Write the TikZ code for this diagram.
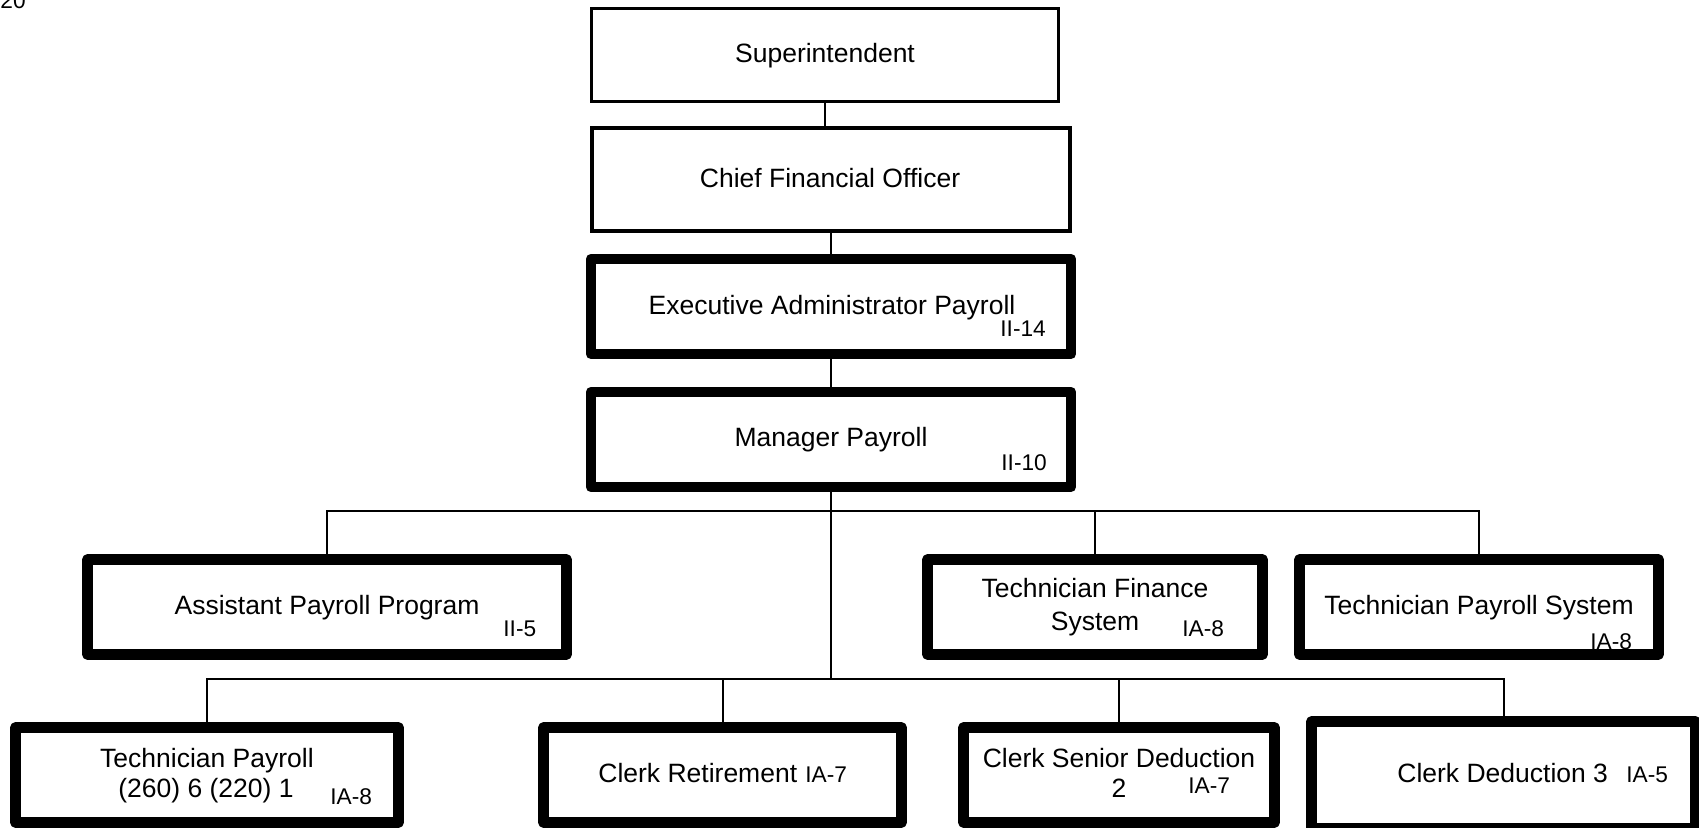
\documentclass[tikz,border=0pt]{standalone}
\usepackage{fontspec}
\setmainfont{Liberation Sans}
\begin{document}
\begin{tikzpicture}[x=0.5pt,y=-0.5pt]
\tikzset{
 thinbox/.style={draw, line width=1.5pt, inner sep=0pt, outer sep=0pt},
 midbox/.style={draw, line width=2pt, inner sep=0pt, outer sep=0pt},
 thickbox/.style={draw, line width=5.25pt, line join=round, inner sep=0pt, outer sep=0pt, minimum height=47.5pt},
 lbl/.style={anchor=base, inner sep=0pt, font=\fontsize{13.25}{15}\selectfont},
 lblw/.style={anchor=base west, inner sep=0pt, font=\fontsize{13.25}{15}\selectfont},
 code/.style={anchor=base west, inner sep=0pt, font=\fontsize{11.35}{13}\selectfont},
 conn/.style={line width=1pt},
}
\useasboundingbox (0,0) rectangle (1699,828);
\node[code] (pg) at (0,9) {20};
% boxes
\node[thinbox, minimum width=233.5pt, minimum height=46.5pt] (sup) at (825,55) {};
\node[midbox, minimum width=239pt, minimum height=51.5pt] (cfo) at (831,179.5) {};
\node[thickbox, minimum width=240pt] (exec) at (831,306.5) {};
\node[thickbox, minimum width=240pt] (mgr) at (831,439.5) {};
\node[thickbox, minimum width=239.5pt] (asst) at (327,607) {};
\node[thickbox, minimum width=167.5pt] (tfin) at (1095,607) {};
\node[thickbox, minimum width=179.5pt] (tps) at (1479,607) {};
\node[thickbox, minimum width=191.5pt] (tp) at (207,775) {};
\node[thickbox, minimum width=179pt] (cret) at (722.5,775) {};
\node[thickbox, minimum width=155.5pt] (csd) at (1119,775) {};
\node[thickbox, minimum width=192pt, minimum height=53.5pt] (cded) at (1503.5,775) {};
% texts
\node[lbl] (supT) at (825,63) {Superintendent};
\node[lbl] (cfoT) at (830,188) {Chief Financial Officer};
\node[lbl] (execT) at (832,315) {Executive Administrator Payroll};
\node[code] (execC) at (1000,337) {II-14};
\node[lbl] (mgrT) at (831,447) {Manager Payroll};
\node[code] (mgrC) at (1001,471) {II-10};
\node[lbl] (asstT) at (327,615) {Assistant Payroll Program};
\node[code] (asstC) at (503,637) {II-5};
\node[lbl] (tfinT) at (1095,598) {Technician Finance};
\node[lbl] (tfinT2) at (1095,631) {System};
\node[code] (tfinC) at (1182,637) {IA-8};
\node[lbl] (tpsT) at (1479,615) {Technician Payroll System};
\node[code] (tpsC) at (1590,650) {IA-8};
\node[lbl] (tpT) at (207,767) {Technician Payroll};
\node[lbl] (tpT2) at (206,798) {(260) 6 (220) 1};
\node[code] (tpC) at (330,805) {IA-8};
\node[lblw] (cretT) at (598,783) {Clerk Retirement};
\node[code] (cretC) at (805,783) {IA-7};
\node[lbl] (csdT) at (1119,767) {Clerk Senior Deduction};
\node[lbl] (csdT2) at (1119,798) {2};
\node[code] (csdC) at (1188,793) {IA-7};
\node[lblw] (cdedT) at (1397,783) {Clerk Deduction 3};
\node[code] (cdedC) at (1626,782) {IA-5};
% connectors
\coordinate (b1) at (831,511);
\coordinate (b2) at (831,679);
\draw[conn] (sup.south) -- (sup.south |- cfo.north);
\draw[conn] (cfo.south) -- (exec.north);
\draw[conn] (exec.south) -- (mgr.north);
\draw[conn] (mgr.south) -- (b2);
\draw[conn] (asst.north) -- (asst.north |- b1) -- (tps.north |- b1) -- (tps.north);
\draw[conn] (tfin.north) -- (tfin.north |- b1);
\draw[conn] (tp.north) -- (tp.north |- b2) -- (cded.north |- b2) -- (cded.north);
\draw[conn] (cret.north) -- (cret.north |- b2);
\draw[conn] (csd.north) -- (csd.north |- b2);
\end{tikzpicture}
\end{document}
